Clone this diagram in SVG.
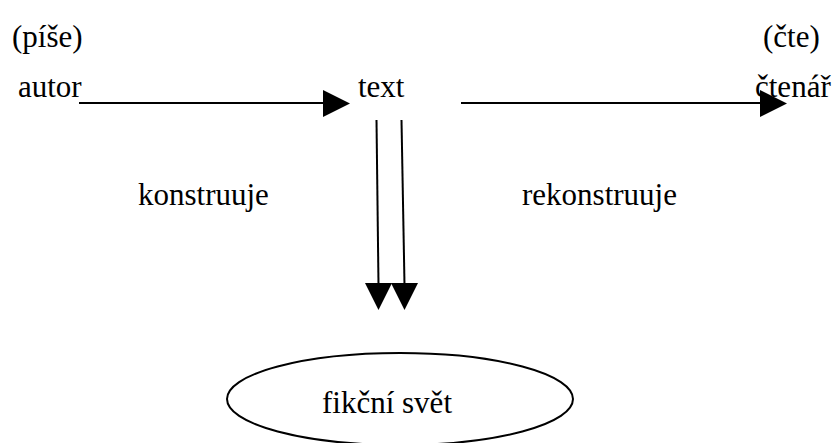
<svg xmlns="http://www.w3.org/2000/svg" width="837" height="443" viewBox="0 0 837 443">
<style>
.ln{stroke:#000;stroke-width:2;fill:none}
.ah{fill:#000}
</style>
<rect width="837" height="443" fill="#fff"/>
<g font-family="Liberation Serif, DejaVu Serif, serif" font-size="31" fill="#000">
<g id="autor"><text x="18" y="97">autor</text><text x="12" y="47">(píše)</text></g>
<g id="text"><text x="358" y="97">text</text></g>
<g id="ctenar"><text x="755" y="97">čtenář</text><text x="763" y="47">(čte)</text></g>
<g id="konstruuje"><text x="138" y="205">konstruuje</text></g>
<g id="rekonstruuje"><text x="522" y="205">rekonstruuje</text></g>
<g id="svet"><ellipse cx="400" cy="399" rx="173" ry="46" fill="none" stroke="#000" stroke-width="2"/><text x="322" y="413">fikční svět</text></g>
</g>
<g id="connectors">
<line class="ln" x1="79" y1="103" x2="325" y2="103"/>
<polygon class="ah" points="323,90 350,103.5 323,117"/>
<line class="ln" x1="461" y1="103" x2="762" y2="103"/>
<polygon class="ah" points="760,90 787,103.5 760,117"/>
<line class="ln" x1="376.5" y1="120" x2="378.5" y2="285"/>
<polygon class="ah" points="365,283 392,283 378.5,310"/>
<line class="ln" x1="401.5" y1="120" x2="404.5" y2="285"/>
<polygon class="ah" points="391,283 418,283 404.5,310"/>
</g>
</svg>
